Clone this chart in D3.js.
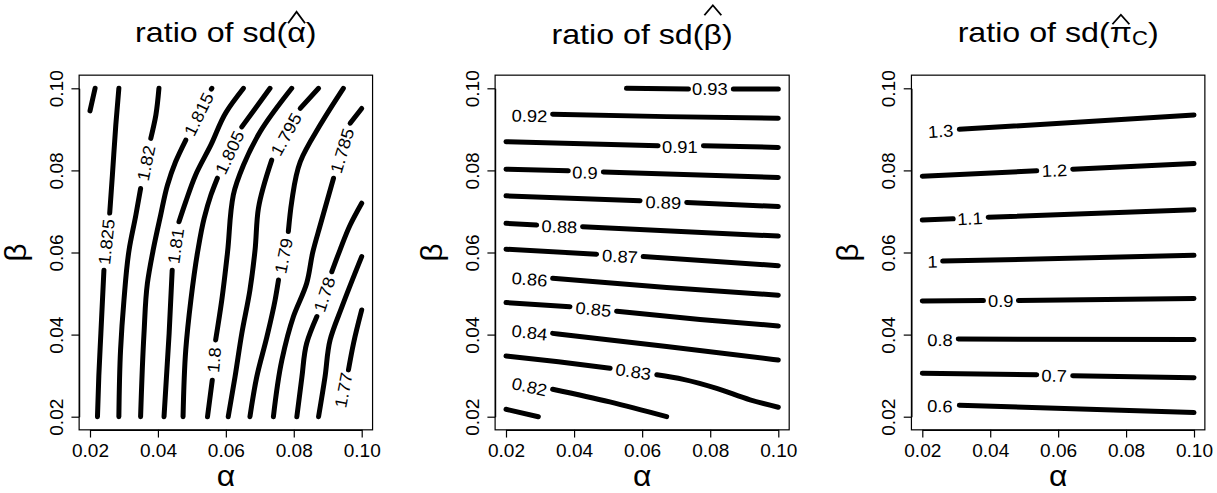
<!DOCTYPE html>
<html><head><meta charset="utf-8">
<script src="https://cdn.jsdelivr.net/npm/d3@7"></script>
<style>
body{margin:0;background:#fff}
svg{display:block}
text{font-family:"Liberation Sans",Arial,Helvetica,sans-serif;fill:#000}
</style>
</head><body>
<svg id="chart" width="1217" height="493"></svg>
<script>
// ---------- data ----------
const tickValues = [0.02, 0.04, 0.06, 0.08, 0.10];
const tickLabels = ["0.02", "0.04", "0.06", "0.08", "0.10"];
const titleGreek = ["α", "β", "π"];
const titleSub = ["", "", "C"];
const xAxisTitle = "α";
const yAxisTitle = "β";

// panel 1: ratio of sd(alpha-hat)
const alphaHatLevels = ["1.83","1.825","1.82","1.815","1.81","1.805","1.8","1.795","1.79","1.785","1.78","1.775","1.77"];
const alphaHatPaths = [
  [[[0.0200,0.0945],[0.0215,0.1000]]],
  [[[0.0222,0.02],[0.0226,0.030],[0.0232,0.0403],[0.0241,0.0557]],
   [[0.0258,0.0696],[0.0266,0.0789],[0.0276,0.0911],[0.0285,0.10]]],
  [[[0.0285,0.02],[0.0290,0.0363],[0.0300,0.0484],[0.0315,0.0606],[0.0335,0.0691],[0.0349,0.0756]],
   [[0.0379,0.0878],[0.0394,0.0935],[0.0403,0.10]]],
  [[[0.0349,0.02],[0.0359,0.0403],[0.0369,0.0525],[0.0386,0.0606],[0.0408,0.0691],[0.0428,0.0764],[0.0452,0.0821],[0.0482,0.0874]],
   [[0.0557,0.0998],[0.0559,0.10]]],
  [[[0.0418,0.02],[0.0433,0.0403],[0.0442,0.0557]],
   [[0.0462,0.0675],[0.0482,0.0724],[0.0511,0.0789],[0.0556,0.0862],[0.0601,0.0942],[0.0652,0.10]]],
  [[[0.0474,0.02],[0.0482,0.0363],[0.0497,0.0484],[0.0517,0.0602],[0.0536,0.0683],[0.0556,0.0740],[0.0575,0.0781]],
   [[0.0647,0.0906],[0.0730,0.10]]],
  [[[0.0546,0.02],[0.0560,0.0289]],
   [[0.0570,0.0387],[0.0588,0.0484],[0.0605,0.0601],[0.0622,0.0740],[0.0652,0.0813],[0.0701,0.0894],[0.0794,0.10]]],
  [[[0.0607,0.02],[0.0627,0.0297],[0.0647,0.0403],[0.0671,0.0509],[0.0686,0.0606],[0.0696,0.0708],[0.0735,0.0825]],
   [[0.0819,0.0951],[0.0873,0.10]]],
  [[[0.0671,0.02],[0.0691,0.0297],[0.0721,0.0395],[0.0745,0.0484],[0.0755,0.0533]],
   [[0.0784,0.0651],[0.0794,0.0724],[0.0819,0.0821],[0.0878,0.0911],[0.0946,0.10]]],
  [[[0.0740,0.02],[0.0765,0.0338],[0.0799,0.0444],[0.0838,0.0525],[0.0856,0.0601],[0.0878,0.0667],[0.0917,0.0781]],
   [[0.0966,0.0915],[0.1,0.0951]]],
  [[[0.0809,0.02],[0.0824,0.0297],[0.0838,0.0379],[0.0868,0.0444]],
   [[0.0912,0.0553],[0.0936,0.0606],[0.0966,0.0667],[0.1,0.0720]]],
  [[[0.0873,0.02],[0.0892,0.0297],[0.0907,0.0387],[0.0942,0.0468],[0.1,0.0590]]],
  [[[0.0961,0.0314],[0.0976,0.0379],[0.1,0.0460]]]
];
const alphaHatLabelPos = [null,[0.0248,0.0626],[0.0365,0.0818],[0.0520,0.0937],[0.0452,0.0616],[0.0611,0.0844],
  [0.0565,0.0338],[0.0777,0.0888],[0.0770,0.0592],[0.0942,0.0848],[0.0890,0.0498],null,[0.0946,0.0265]];

// panel 2: ratio of sd(beta-hat)
const betaHatLevels = ["0.93","0.92","0.91","0.9","0.89","0.88","0.87","0.86","0.85","0.84","0.83","0.82","0.81"];
const betaHatPaths = [
  [[[0.0554,0.1000],[0.0736,0.0998]],[[0.0868,0.0998],[0.1,0.0998]]],
  [[[0.0337,0.0937],[0.0672,0.0931],[0.1,0.0927]]],
  [[[0.02,0.0870],[0.0647,0.0860]],[[0.0780,0.0860],[0.1,0.0856]]],
  [[[0.02,0.0803],[0.0383,0.0799]],[[0.0486,0.0796],[0.1,0.0783]]],
  [[[0.02,0.0738],[0.0594,0.0726]],[[0.0731,0.0722],[0.1,0.0712]]],
  [[[0.02,0.0671],[0.0290,0.0667]],[[0.0425,0.0663],[0.1,0.0640]]],
  [[[0.02,0.0608],[0.0466,0.0596]],[[0.0603,0.0590],[0.1,0.0568]]],
  [[[0.0337,0.0537],[0.0672,0.0515],[0.1,0.0496]]],
  [[[0.02,0.0478],[0.0388,0.0468]],[[0.0525,0.0457],[0.0770,0.0437],[0.1,0.0421]]],
  [[[0.0337,0.0403],[0.0672,0.0371],[0.1,0.0338]]],
  [[[0.02,0.0348],[0.0354,0.0334],[0.0506,0.0318]],[[0.0643,0.0302],[0.0721,0.0291],[0.0819,0.0269],[0.0917,0.0241],[0.1,0.0223]]],
  [[[0.0337,0.0267],[0.0505,0.0236],[0.0672,0.0200]]],
  [[[0.02,0.0218],[0.0295,0.02]]]
];
const betaHatLabelPos = [[0.0799,0.0998],[0.0269,0.0933],[0.0711,0.0858],[0.0432,0.0795],[0.0662,0.0722],[0.0357,0.0663],
  [0.0535,0.0591],[0.0269,0.0535],[0.0457,0.0462],[0.0269,0.0405],[0.0574,0.0310],[0.0269,0.0273],null];

// panel 3: ratio of sd(pi_C-hat)
const piHatLevels = ["1.3","1.2","1.1","1","0.9","0.8","0.7","0.6"];
const piHatPaths = [
  [[[0.0309,0.0900],[0.1,0.0935]]],
  [[[0.02,0.0786],[0.0537,0.0799]],[[0.0643,0.0803],[0.1,0.0817]]],
  [[[0.02,0.0679],[0.0291,0.0682]],[[0.0394,0.0686],[0.1,0.0704]]],
  [[[0.0260,0.0579],[0.1,0.0593]]],
  [[[0.02,0.0482],[0.0380,0.0483]],[[0.0483,0.0483],[0.1,0.0488]]],
  [[[0.0306,0.0389],[0.1,0.0388]]],
  [[[0.02,0.0306],[0.0537,0.0302]],[[0.0643,0.0300],[0.1,0.0295]]],
  [[[0.0309,0.0228],[0.1,0.0210]]]
];
const piHatLabelPos = [[0.0254,0.0896],[0.0589,0.0800],[0.0340,0.0683],[0.0230,0.0578],[0.0431,0.0482],
  [0.0252,0.0387],[0.0588,0.0300],[0.0252,0.0226]];

// ---------- layout ----------
const svg = d3.select("#chart");
const panels = [
  {levels: alphaHatLevels, paths: alphaHatPaths, labels: alphaHatLabelPos, xr: [90, 361.7], base: 41.7,
   hat: {apex: -30, feet: -18.5}, curve: d3.curveMonotoneY},
  {levels: betaHatLevels, paths: betaHatPaths, labels: betaHatLabelPos, xr: [506, 778.3], base: 44.3,
   hat: {apex: -39, feet: -29}, curve: d3.curveMonotoneX},
  {levels: piHatLevels, paths: piHatPaths, labels: piHatLabelPos, xr: [922.3, 1194], base: 41.7,
   hat: {apex: -27, feet: -17.5}, curve: d3.curveMonotoneX}
];
const yr = [416.7, 88.3];
const lo = 0.0168, hi = 0.1032;
const TICK_FS = 18, TICK_SX = 1.06;
const LAB_FS = 17, LAB_SX = 1.08;
const TITLE_FS = 28.5, TITLE_SX = 1.13;
const AX_FS = 29, AX_SX = 1.1;

panels.forEach((p, pi) => {
  const x = d3.scaleLinear().domain([0.02, 0.10]).range(p.xr);
  const y = d3.scaleLinear().domain([0.02, 0.10]).range(yr);
  const g = svg.append("g");
  const bx0 = x(lo), bx1 = x(hi), by0 = y(hi), by1 = y(lo);

  // box
  g.append("rect").attr("x", bx0).attr("y", by0).attr("width", bx1 - bx0).attr("height", by1 - by0)
    .attr("fill", "none").attr("stroke", "#000").attr("stroke-width", 1.2);

  // axes
  const xa = g.append("g").attr("transform", `translate(0,${by1})`)
    .call(d3.axisBottom(x).tickValues(tickValues).tickFormat((d, i) => tickLabels[i]).tickSize(7.7).tickSizeOuter(0));
  xa.select(".domain").attr("stroke-width", 1.2);
  xa.selectAll(".tick line").attr("stroke-width", 1.2);
  xa.selectAll(".tick text").attr("y", 0).attr("dy", 0)
    .attr("transform", `translate(0,27.5) scale(${TICK_SX},1)`)
    .style("font-size", TICK_FS + "px").attr("font-family", null);

  const ya = g.append("g").attr("transform", `translate(${bx0},0)`)
    .call(d3.axisLeft(y).tickValues(tickValues).tickFormat((d, i) => tickLabels[i]).tickSize(7.7).tickSizeOuter(0));
  ya.select(".domain").attr("stroke-width", 1.2);
  ya.selectAll(".tick line").attr("stroke-width", 1.2);
  ya.selectAll(".tick text").attr("x", 0).attr("dy", 0).attr("y", 0)
    .attr("text-anchor", "middle")
    .attr("transform", `translate(-16.4,0) rotate(-90) scale(${TICK_SX},1)`)
    .style("font-size", TICK_FS + "px").attr("font-family", null);

  // axis titles
  const cx = (bx0 + bx1) / 2, cy = (by0 + by1) / 2;
  g.append("text").attr("text-anchor", "middle")
    .attr("transform", `translate(${cx},486) scale(${AX_SX},1)`)
    .style("font-size", AX_FS + "px").text(xAxisTitle);
  g.append("text").attr("text-anchor", "middle")
    .attr("transform", `translate(${bx0 - 53},${cy}) rotate(-90) scale(${AX_SX},1)`)
    .style("font-size", AX_FS + "px").text(yAxisTitle);

  // contours
  const line = d3.line().x(d => x(d[0])).y(d => y(d[1])).curve(p.curve);
  p.paths.forEach((pieces, li) => {
    pieces.forEach(piece => {
      g.append("path").attr("d", line(piece)).attr("fill", "none").attr("stroke", "#000")
        .attr("stroke-width", 5).attr("stroke-linecap", "round").attr("stroke-linejoin", "round");
    });
    const lp = p.labels[li];
    if (!lp) return;
    const P = [x(lp[0]), y(lp[1])];
    const ends = [];
    pieces.forEach((piece, k) => {
      const n = piece.length;
      ends.push({k, pt: piece[0], nb: piece[1]});
      ends.push({k, pt: piece[n - 1], nb: piece[n - 2]});
    });
    ends.forEach(e => {
      e.x = x(e.pt[0]); e.y = y(e.pt[1]);
      e.nx = x(e.nb[0]); e.ny = y(e.nb[1]);
      e.d = Math.hypot(e.x - P[0], e.y - P[1]);
    });
    ends.sort((a, b) => a.d - b.d);
    const e1 = ends[0];
    const e2 = ends.find(e => e.k !== e1.k && e.d < 70);
    let dx, dy;
    if (e2) { dx = e2.x - e1.x; dy = e2.y - e1.y; } else { dx = e1.nx - e1.x; dy = e1.ny - e1.y; }
    let ang = Math.atan2(dy, dx) * 180 / Math.PI;
    if (ang > 90) ang -= 180;
    if (ang <= -90) ang += 180;
    g.append("text").attr("text-anchor", "middle").attr("dy", "0.36em")
      .attr("transform", `translate(${P[0]},${P[1]}) rotate(${ang}) scale(${LAB_SX},1)`)
      .style("font-size", LAB_FS + "px").text(p.levels[li]);
  });

  // title
  const tg = g.append("g");
  let tx = 0;
  const t1 = tg.append("text").attr("x", 0).attr("y", 0).style("font-size", TITLE_FS + "px").text("ratio of sd(");
  tx += t1.node().getComputedTextLength();
  const gx = tx;
  const t2 = tg.append("text").attr("x", tx).attr("y", 0).style("font-size", TITLE_FS + "px").text(titleGreek[pi]);
  const gw = t2.node().getComputedTextLength();
  tx += gw;
  if (titleSub[pi]) {
    const t3 = tg.append("text").attr("x", tx).attr("y", 3.5).style("font-size", "19.5px").text(titleSub[pi]);
    tx += t3.node().getComputedTextLength();
  }
  const t4 = tg.append("text").attr("x", tx).attr("y", 0).style("font-size", TITLE_FS + "px").text(")");
  tx += t4.node().getComputedTextLength();
  const hc = gx + gw / 2, hw = 7.5;
  tg.append("path").attr("d", `M${hc - hw},${p.hat.feet}L${hc},${p.hat.apex}L${hc + hw},${p.hat.feet}`)
    .attr("fill", "none").attr("stroke", "#000").attr("stroke-width", 1.6);
  tg.attr("transform", `translate(${cx - TITLE_SX * tx / 2},${p.base}) scale(${TITLE_SX},1)`);
});
</script>
</body></html>
